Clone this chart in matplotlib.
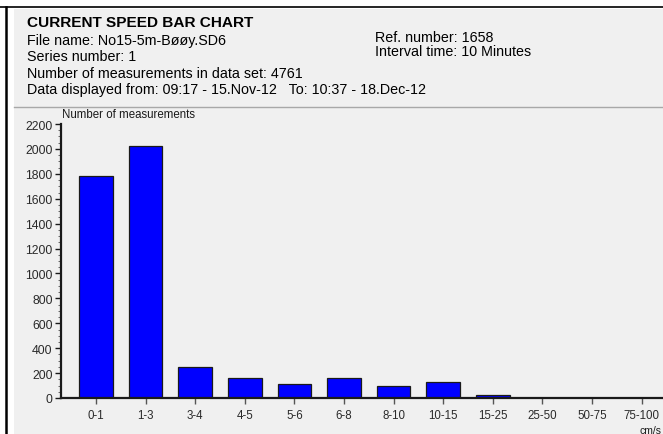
import matplotlib
matplotlib.use("Agg")
import matplotlib.pyplot as plt
from matplotlib.patches import Rectangle
from matplotlib.lines import Line2D
from matplotlib.ticker import MultipleLocator

categories = ["0-1", "1-3", "3-4", "4-5", "5-6", "6-8", "8-10", "10-15",
              "15-25", "25-50", "50-75", "75-100"]
counts = [1780, 2025, 246, 158, 115, 158, 99, 128, 27, 0, 0, 0]
yticks = list(range(0, 2201, 200))

header_title = "CURRENT SPEED BAR CHART"
header_left = ["File name: No15-5m-Bøøy.SD6",
               "Series number: 1",
               "Number of measurements in data set: 4761",
               "Data displayed from: 09:17 - 15.Nov-12   To: 10:37 - 18.Dec-12"]
header_right = ["Ref. number: 1658", "Interval time: 10 Minutes"]

plt.rcParams['font.family'] = ['Liberation Sans', 'DejaVu Sans']

W, H = 663, 435
fig = plt.figure(figsize=(W / 100, H / 100), dpi=100)
fig.patch.set_facecolor("white")

def fx(px):
    return px / W

def fy(py):
    return 1 - py / H

# gray panel
fig.patches.append(Rectangle((fx(14), 0), 1 - fx(14), fy(10), transform=fig.transFigure,
                             facecolor="#f0f0f0", edgecolor="none", zorder=-5))
# black frame lines
fig.lines.append(Line2D([fx(0), 1], [fy(7.5), fy(7.5)], transform=fig.transFigure,
                        color="black", lw=1.2, zorder=-4))
fig.lines.append(Line2D([fx(5.5), fx(5.5)], [fy(7.5), 0], transform=fig.transFigure,
                        color="black", lw=1.8, zorder=-4))
# separator
fig.lines.append(Line2D([fx(14), 1], [fy(108), fy(108)], transform=fig.transFigure,
                        color="#a8a8a8", lw=1.0, zorder=-4))

# header text
fig.text(fx(27), fy(23), header_title, fontsize=11.1, fontweight="bold",
         va="center", ha="left", color="black")
ys = [40.5, 57, 73.5, 90]
for t, y in zip(header_left, ys):
    fig.text(fx(27), fy(y), t, fontsize=10.3, va="center", ha="left", color="black")
for t, y in zip(header_right, [38, 52.5]):
    fig.text(fx(375), fy(y), t, fontsize=10.3, va="center", ha="left", color="black")

# axes: x from 61px to right edge, y from 399 (0) to 125 (2200)
x_left = 61
y0, ytop = 399, 125
ax = fig.add_axes([fx(x_left), fy(y0), 1 - fx(x_left) + 0.02, (y0 - ytop) / H])
ax.set_facecolor("none")
xs = list(range(len(categories)))
ax.bar(xs, counts, width=0.68, color="#0000ff", edgecolor="#1a1a1a", linewidth=0.9)
spacing = 49.6
x0_px = 96
ax.set_xlim((x_left - x0_px) / spacing, (W + 0.02 * W - x0_px) / spacing)
ax.set_ylim(0, 2200)
ax.set_yticks(yticks)
ax.yaxis.set_minor_locator(MultipleLocator(50))
ax.set_xticks(xs)
ax.set_xticklabels(categories)
for s in ["top", "right"]:
    ax.spines[s].set_visible(False)
ax.spines["left"].set_linewidth(1.6)
ax.spines["bottom"].set_linewidth(1.6)
ax.spines["left"].set_color("#1a1a1a")
ax.spines["bottom"].set_color("#1a1a1a")
ax.tick_params(axis="y", which="major", length=4, width=1, labelsize=8.8, pad=2,
               colors="#1a1a1a", labelcolor="#2a2a2a")
ax.tick_params(axis="y", which="minor", length=2, width=0.6, colors="#555555")
ax.tick_params(axis="x", which="major", length=4, width=1, labelsize=8.3, pad=4,
               colors="#555555", labelcolor="#2a2a2a")

fig.text(fx(62), fy(115), "Number of measurements", fontsize=8.3, va="center",
         ha="left", color="#1a1a1a")
fig.text(fx(662), fy(431), "cm/s", fontsize=7.5, va="center", ha="right",
         color="#1a1a1a")

fig.savefig("out.png", dpi=100)
